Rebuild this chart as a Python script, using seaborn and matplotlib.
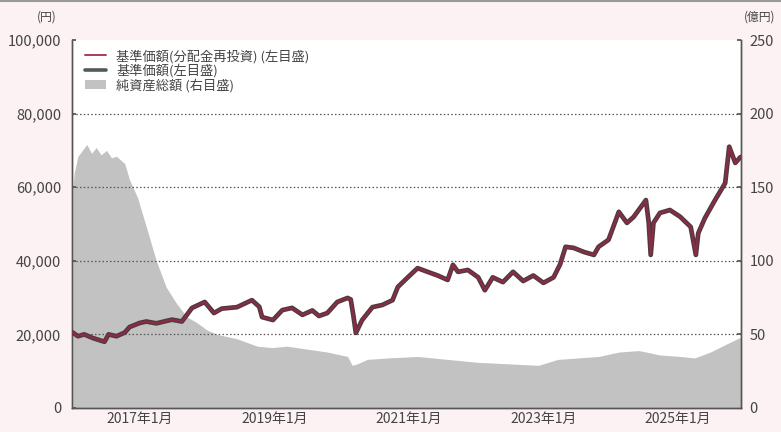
import matplotlib
matplotlib.use("Agg")
import matplotlib.pyplot as plt
from matplotlib.lines import Line2D
from matplotlib.patches import Patch
import pandas as pd
import seaborn as sns

# ---- data ----
nav_dates = ["2016-01-04", "2016-02-01", "2016-03-06", "2016-04-22", "2016-06-24", "2016-07-16",
             "2016-08-28", "2016-10-12", "2016-11-07", "2017-01-01", "2017-02-06", "2017-04-01",
             "2017-06-25", "2017-08-18", "2017-10-12", "2017-12-20", "2018-02-08", "2018-03-22",
             "2018-06-13", "2018-09-02", "2018-10-12", "2018-10-27", "2018-12-25", "2019-02-14",
             "2019-04-08", "2019-06-03", "2019-07-27", "2019-09-01", "2019-10-16", "2019-12-09",
             "2020-02-03", "2020-02-20", "2020-03-05", "2020-03-19", "2020-04-22", "2020-06-17",
             "2020-08-10", "2020-10-04", "2020-11-02", "2020-12-28", "2021-02-17", "2021-04-12",
             "2021-06-06", "2021-07-30", "2021-08-28", "2021-09-24", "2021-11-17", "2022-01-12",
             "2022-02-17", "2022-04-01", "2022-05-26", "2022-07-20", "2022-09-13", "2022-11-07",
             "2023-01-01", "2023-02-25", "2023-04-01", "2023-05-01", "2023-06-14", "2023-08-08",
             "2023-10-02", "2023-10-27", "2023-12-20", "2024-02-14", "2024-03-29", "2024-05-04",
             "2024-07-10", "2024-07-25", "2024-08-05", "2024-08-20", "2024-09-24", "2024-11-17",
             "2025-01-11", "2025-03-10", "2025-04-07", "2025-04-20", "2025-05-26", "2025-07-20",
             "2025-09-13", "2025-10-05", "2025-11-07", "2025-12-05"]
nav_values = [20500, 19500, 20000, 19000, 18000, 20000,
              19500, 20500, 22000, 23100, 23500, 23000,
              24000, 23500, 27200, 28800, 25800, 27000,
              27400, 29300, 27500, 24700, 23900, 26600,
              27200, 25300, 26500, 25000, 25800, 28800,
              29900, 29500, 25300, 20400, 23900, 27400,
              28000, 29300, 32900, 35600, 38000, 37000,
              36000, 34800, 38900, 37000, 37500, 35500,
              32000, 35500, 34200, 37000, 34500, 36000,
              34000, 35500, 39000, 43800, 43500, 42400,
              41600, 43800, 45700, 53300, 50300, 51900,
              56500, 50500, 41600, 50300, 53000, 53800,
              52000, 49200, 41600, 47500, 51600, 56500,
              61100, 71000, 66600, 68200]

aum_dates = ["2016-01-04", "2016-01-12", "2016-02-01", "2016-03-20", "2016-04-15", "2016-05-10",
             "2016-06-05", "2016-07-05", "2016-08-01", "2016-08-28", "2016-10-12", "2016-11-07",
             "2016-12-20", "2017-02-06", "2017-04-01", "2017-05-25", "2017-07-20", "2017-09-13",
             "2017-11-07", "2018-01-01", "2018-02-25", "2018-06-13", "2018-10-01", "2018-12-20",
             "2019-03-10", "2019-06-28", "2019-10-16", "2020-02-03", "2020-02-28", "2020-03-27",
             "2020-05-20", "2020-09-10", "2021-02-17", "2021-07-30", "2022-01-12", "2022-06-25",
             "2022-12-05", "2023-03-20", "2023-07-08", "2023-10-27", "2024-02-14", "2024-06-03",
             "2024-09-24", "2025-01-11", "2025-04-01", "2025-06-25", "2025-09-13", "2025-12-05"]
aum_values = [148, 160, 171, 179, 173, 177,
              172, 175, 170, 171, 166, 155,
              143, 123, 100, 82, 71, 62,
              58, 53, 50, 47, 42, 41,
              42, 40, 38, 35, 29, 30,
              33, 34, 35, 33, 31, 30,
              29, 33, 34, 35, 38, 39,
              36, 35, 34, 38, 43, 48]

xtick_dates = ["2017-01-01", "2019-01-01", "2021-01-01", "2023-01-01", "2025-01-01"]
xtick_labels = ["2017年1月", "2019年1月", "2021年1月", "2023年1月", "2025年1月"]
left_ticks = [0, 20000, 40000, 60000, 80000, 100000]
right_ticks = [0, 50, 100, 150, 200, 250]
legend_labels = ["基準価額(分配金再投資) (左目盛)", "基準価額(左目盛)", "純資産総額 (右目盛)"]

nav = pd.DataFrame({"date": pd.to_datetime(nav_dates), "nav": nav_values})
aum = pd.DataFrame({"date": pd.to_datetime(aum_dates), "aum": aum_values})

# ---- style ----
sns.set_theme(style="white")
plt.rcParams["font.family"] = ["Noto Sans CJK JP", "DejaVu Sans"]

BG = "#fcf1f3"
TXT = "#444444"
MAROON = "#8a2c45"
DARK = "#4e3a3f"
GRAYFILL = "#c2c2c2"

fig = plt.figure(figsize=(7.81, 4.32), dpi=100, facecolor=BG)
ax = fig.add_axes([0.0925, 0.0556, 0.8563, 0.8518])
ax2 = ax.twinx()

# area on right axis, behind lines
ax2.patch.set_visible(True)
ax2.set_facecolor("white")
ax2.fill_between(aum["date"], 0, aum["aum"], color=GRAYFILL, linewidth=0, zorder=1)
ax2.set_ylim(0, 250)
ax2.set_yticks(right_ticks)
ax2.set_yticklabels([str(v) for v in right_ticks])

ax.set_zorder(ax2.get_zorder() + 1)
ax.patch.set_visible(False)

# lines on left axis
sns.lineplot(data=nav, x="date", y="nav", ax=ax, color=DARK, linewidth=3.4, zorder=3)
sns.lineplot(data=nav, x="date", y="nav", ax=ax, color=MAROON, linewidth=1.6, zorder=4)

ax.set_ylim(0, 100000)
ax.set_yticks(left_ticks)
ax.set_yticklabels([f"{v:,}" for v in left_ticks])
ax.set_xlim(pd.Timestamp("2016-01-01"), pd.Timestamp("2025-12-08"))
ax.set_xticks(pd.to_datetime(xtick_dates))
ax.set_xticklabels(xtick_labels)
ax.set_xlabel("")
ax.set_ylabel("")

for y in left_ticks[1:-1]:
    ax.axhline(y, color="#555555", linestyle=(0, (1.2, 1.8)), linewidth=0.9, zorder=2)

for a in (ax, ax2):
    for s in a.spines.values():
        s.set_color("#555555")
        s.set_linewidth(1.0)
    a.spines["top"].set_visible(False)
ax.tick_params(axis="y", direction="in", length=3, color="#555555", labelsize=10.5, labelcolor=TXT, pad=8)
ax.tick_params(axis="x", direction="in", length=4, color="#555555", labelsize=10, labelcolor=TXT, pad=3)
ax2.tick_params(axis="y", direction="in", length=3, color="#555555", labelsize=10.5, labelcolor=TXT, pad=6)

fig.text(0.060, 0.945, "(円)", fontsize=8.5, color=TXT, ha="center", va="bottom")
fig.text(0.972, 0.945, "(億円)", fontsize=8.5, color=TXT, ha="center", va="bottom")

# top decorative rule
fig.add_artist(Line2D([0, 1], [0.997, 0.997], color="#9a9a9a", linewidth=1.5))

handles = [Line2D([0], [0], color="#b03a55", linewidth=1.4),
           Line2D([0], [0], color="#505a5a", linewidth=2.6),
           Patch(facecolor=GRAYFILL, edgecolor="none")]
leg = ax.legend(handles, legend_labels, loc="upper left", bbox_to_anchor=(0.005, 1.0),
                frameon=False, fontsize=9.5, handlelength=1.6, handleheight=0.7,
                labelspacing=0.05, borderaxespad=0.3)
for t in leg.get_texts():
    t.set_color(TXT)

fig.savefig("out.png", dpi=100, facecolor=BG)
